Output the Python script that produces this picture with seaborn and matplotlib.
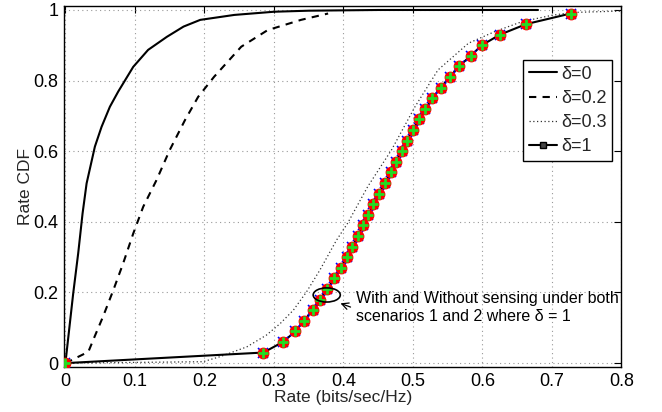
import matplotlib
matplotlib.use("Agg")
import matplotlib.pyplot as plt
import seaborn as sns
import pandas as pd
import numpy as np
from matplotlib.lines import Line2D
from matplotlib.patches import Ellipse

# ---- data ----
d0_x = [0, 0.0112, 0.0184, 0.0247, 0.0305, 0.0424, 0.052, 0.064, 0.076, 0.0976, 0.119,
        0.146, 0.17, 0.194, 0.243, 0.3, 0.35, 0.45, 0.68]
d0_y = [0, 0.197, 0.311, 0.424, 0.509, 0.613, 0.669, 0.726, 0.769, 0.839, 0.887,
        0.924, 0.953, 0.972, 0.986, 0.995, 0.998, 1.0, 1.0]

d02_x = [0, 0.033, 0.042, 0.054, 0.069, 0.083, 0.0976, 0.112, 0.131, 0.150, 0.172, 0.191,
         0.214, 0.253, 0.291, 0.339, 0.378]
d02_y = [0, 0.032, 0.075, 0.131, 0.207, 0.282, 0.367, 0.443, 0.518, 0.603, 0.688, 0.754,
         0.811, 0.896, 0.943, 0.972, 0.99]

d03_x = [0, 0.198, 0.222, 0.261, 0.289, 0.309, 0.328, 0.347, 0.366, 0.39, 0.406, 0.435,
         0.469, 0.503, 0.536, 0.58, 0.618, 0.657, 0.70, 0.73, 0.8]
d03_y = [0, 0.004, 0.018, 0.046, 0.079, 0.112, 0.15, 0.202, 0.263, 0.348, 0.396, 0.5,
         0.603, 0.726, 0.83, 0.906, 0.939, 0.967, 0.985, 0.993, 0.997]

d1_x = [0, 0.285, 0.313, 0.331, 0.343, 0.356, 0.366, 0.377, 0.387, 0.396, 0.405, 0.413,
        0.421, 0.428, 0.436, 0.443, 0.451, 0.46, 0.468, 0.475, 0.484, 0.491, 0.50,
        0.509, 0.518, 0.528, 0.54, 0.553, 0.566, 0.583, 0.599, 0.625, 0.663, 0.727]
d1_y = [0, 0.03, 0.06, 0.09, 0.12, 0.15, 0.18, 0.21, 0.24, 0.27, 0.30, 0.33,
        0.36, 0.39, 0.42, 0.45, 0.48, 0.51, 0.54, 0.57, 0.60, 0.63, 0.66,
        0.69, 0.72, 0.75, 0.78, 0.81, 0.84, 0.87, 0.90, 0.93, 0.96, 0.99]

x_ticks = [0, 0.1, 0.2, 0.3, 0.4, 0.5, 0.6, 0.7, 0.8]
x_tick_labels = ["0", "0.1", "0.2", "0.3", "0.4", "0.5", "0.6", "0.7", "0.8"]
y_ticks = [0, 0.2, 0.4, 0.6, 0.8, 1.0]
y_tick_labels = ["0", "0.2", "0.4", "0.6", "0.8", "1"]

sns.set_theme(style="white")
plt.rcParams['font.family'] = ['Liberation Sans', 'DejaVu Sans']

fig = plt.figure(figsize=(6.62, 4.12), dpi=100)
ax = fig.add_axes([0.0967, 0.1092, 0.842, 0.876])

sns.lineplot(x=d0_x, y=d0_y, ax=ax, color="black", lw=1.5, linestyle="-",
             sort=False, estimator=None)
sns.lineplot(x=d02_x, y=d02_y, ax=ax, color="black", lw=1.5,
             sort=False, estimator=None)
ax.lines[-1].set_linestyle((0, (3.5, 3)))
sns.lineplot(x=d03_x, y=d03_y, ax=ax, color="#333333", lw=0.9,
             sort=False, estimator=None)
ax.lines[-1].set_linestyle((0, (1, 2)))
sns.lineplot(x=d1_x, y=d1_y, ax=ax, color="black", lw=1.5,
             sort=False, estimator=None)
# overlapping scenario markers
ax.plot(d1_x, d1_y, linestyle="none", marker="x", ms=7, mew=1.2, color="blue", zorder=4)
ax.plot(d1_x, d1_y, linestyle="none", marker="o", ms=7.5, mfc="red", mec="red", zorder=5)
ax.plot(d1_x, d1_y, linestyle="none", marker="+", ms=7, mew=2, color="#22dd22", zorder=6)

ax.set_xlim(-0.002, 0.8)
ax.set_ylim(-0.011, 1.011)
ax.set_xticks(x_ticks)
ax.set_xticklabels(x_tick_labels)
ax.set_yticks(y_ticks)
ax.set_yticklabels(y_tick_labels)
ax.tick_params(direction="in", length=5, width=0.8, top=True, right=True,
               labelsize=13, pad=4, colors="black")
ax.grid(True, linestyle=(0, (1, 3)), color="#999999", lw=0.8)
for s in ax.spines.values():
    s.set_color("black")
    s.set_linewidth(1.0)
ax.set_xlabel("Rate (bits/sec/Hz)", fontsize=12.5, labelpad=0)
ax.set_ylabel("Rate CDF", fontsize=12.5, labelpad=0)

handles = [
    Line2D([], [], color="black", lw=1.5, linestyle="-"),
    Line2D([], [], color="black", lw=1.5, linestyle=(0, (3.5, 3))),
    Line2D([], [], color="#333333", lw=0.9, linestyle=(0, (1, 2))),
    Line2D([], [], color="black", lw=1.5, marker="s", ms=4, mfc="#444444", mec="black"),
]
labels = ["δ=0", "δ=0.2", "δ=0.3", "δ=1"]
leg = ax.legend(handles, labels, loc="upper right", bbox_to_anchor=(0.983, 0.85),
                fontsize=13, frameon=True, fancybox=False, framealpha=1,
                edgecolor="black", handlelength=1.6, handletextpad=0.2,
                borderpad=0.3, labelspacing=0.4, borderaxespad=0)
leg.get_frame().set_linewidth(1.0)

ax.add_patch(Ellipse((0.376, 0.193), 0.039, 0.04, fill=False, ec="black", lw=1.2, zorder=7))
ax.annotate("", xy=(0.392, 0.172), xytext=(0.414, 0.156),
            arrowprops=dict(arrowstyle="->", lw=0.9, color="black"), zorder=7)
ax.text(0.418, 0.158, "With and Without sensing under both\nscenarios 1 and 2 where δ = 1",
        fontsize=11.5, ha="left", va="center", linespacing=1.3, color="black")

fig.savefig("out.png", dpi=100)
